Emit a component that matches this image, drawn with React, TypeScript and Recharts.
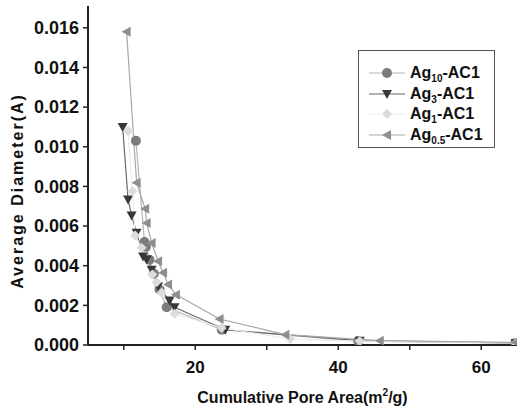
import React from 'react';
import { ComposedChart, Line, XAxis, YAxis } from 'recharts';

const FONT = '"Liberation Sans", Arial, Helvetica, sans-serif';

const ag10X = [11.7, 12.9, 13.1, 13.6, 14.2, 15.0, 16.0, 23.7, 42.8, 64.8];
const ag10Y = [0.0103, 0.0052, 0.00495, 0.0043, 0.0036, 0.0028, 0.0019, 0.00077, 0.0002, 0.0001];

const ag3X = [9.85, 10.6, 11.1, 11.8, 12.7, 13.2, 13.9, 14.8, 16.4, 17.1, 24.2, 43.0, 64.8];
const ag3Y = [0.011, 0.00734, 0.00653, 0.00566, 0.00447, 0.00431, 0.0038, 0.00296, 0.00225, 0.0019, 0.00077, 0.00022, 0.0001];

const ag1X = [10.6, 11.2, 11.6, 12.5, 14.0, 14.6, 15.3, 17.1, 23.7, 33.3, 43.0, 64.8];
const ag1Y = [0.0108, 0.00776, 0.00552, 0.0049, 0.00355, 0.00316, 0.00263, 0.00158, 0.00086, 0.0003, 0.0002, 0.0001];

const ag05X = [10.4, 11.8, 13.0, 13.2, 13.9, 14.8, 15.5, 16.2, 17.3, 23.4, 32.6, 45.8, 64.8];
const ag05Y = [0.0158, 0.00818, 0.00687, 0.00616, 0.00515, 0.00422, 0.00364, 0.00305, 0.00254, 0.00131, 0.00052, 0.00022, 0.00013];

const xTicks = [10, 20, 30, 40, 50, 60];
const yTicks = [0, 0.002, 0.004, 0.006, 0.008, 0.01, 0.012, 0.014, 0.016];

const toPts = (xs: number[], ys: number[]) => xs.map((x, i) => ({ x, y: ys[i] }));

type Shape = 'circle' | 'down' | 'diamond' | 'left';

const series: { name: string; sub: string; shape: Shape; fill: string; line: string; data: { x: number; y: number }[] }[] = [
  { name: 'Ag', sub: '10', shape: 'circle', fill: '#7c7c7c', line: '#b4b4b4', data: toPts(ag10X, ag10Y) },
  { name: 'Ag', sub: '3', shape: 'down', fill: '#383838', line: '#6a6a6a', data: toPts(ag3X, ag3Y) },
  { name: 'Ag', sub: '1', shape: 'diamond', fill: '#dcdcdc', line: '#ececec', data: toPts(ag1X, ag1Y) },
  { name: 'Ag', sub: '0.5', shape: 'left', fill: '#8e8e8e', line: '#a8a8a8', data: toPts(ag05X, ag05Y) },
];

const Marker = ({ cx, cy, shape, fill }: { cx: number; cy: number; shape: Shape; fill: string }) => {
  if (cx == null || cy == null) return null;
  const r = 5;
  if (shape === 'circle') return <circle cx={cx} cy={cy} r={r} fill={fill} />;
  if (shape === 'down')
    return <polygon points={`${cx - r},${cy - r * 0.8} ${cx + r},${cy - r * 0.8} ${cx},${cy + r}`} fill={fill} />;
  if (shape === 'diamond')
    return <polygon points={`${cx},${cy - r} ${cx + r},${cy} ${cx},${cy + r} ${cx - r},${cy}`} fill={fill} />;
  return <polygon points={`${cx - r},${cy} ${cx + r * 0.8},${cy - r} ${cx + r * 0.8},${cy + r}`} fill={fill} />;
};

const XTitle = (props: any) => {
  const vb = props.viewBox || {};
  const cx = vb.x + vb.width / 2;
  return (
    <text x={cx} y={403} textAnchor="middle" fontFamily={FONT} fontWeight="bold" fontSize={16} fill="#111">
      Cumulative Pore Area(m<tspan fontSize={10} dy={-7}>2</tspan>
      <tspan dy={7}>/g)</tspan>
    </text>
  );
};

const YTitle = () => (
  <text
    x={17}
    y={191}
    transform="rotate(-90 17 191)"
    textAnchor="middle"
    dominantBaseline="central"
    fontFamily={FONT}
    fontWeight="bold"
    fontSize={16}
    letterSpacing={2}
    fill="#111"
  >
    Average Diameter(A)
  </text>
);

export default function App() {
  return (
    <div style={{ position: 'absolute', left: 0, top: 0, width: 518, height: 413, background: '#fff' }}>
      <ComposedChart width={518} height={413} margin={{ top: 6, right: 1, bottom: 0, left: 0 }}>
        <XAxis
          xAxisId="top"
          orientation="top"
          type="number"
          dataKey="x"
          domain={[5, 65]}
          allowDataOverflow
          tick={false}
          tickLine={false}
          height={0}
          axisLine={{ stroke: '#222', strokeWidth: 1.5 }}
        />
        <XAxis
          type="number"
          dataKey="x"
          domain={[5, 65]}
          allowDataOverflow
          ticks={xTicks}
          tickFormatter={(v: number) => (v % 20 === 0 ? String(v) : '')}
          height={68}
          tickSize={5}
          tickLine={{ stroke: '#222', strokeWidth: 1.5 }}
          axisLine={{ stroke: '#222', strokeWidth: 2 }}
          tick={{ fontFamily: FONT, fontWeight: 'bold', fontSize: 17, fill: '#111', dy: 9 }}
          label={<XTitle />}
        />
        <YAxis
          type="number"
          domain={[0, 0.0171]}
          allowDataOverflow
          ticks={yTicks}
          tickFormatter={(v: number) => v.toFixed(3)}
          width={88}
          tickSize={5}
          tickLine={{ stroke: '#222', strokeWidth: 1.5 }}
          axisLine={{ stroke: '#222', strokeWidth: 2 }}
          tick={{ fontFamily: FONT, fontWeight: 'bold', fontSize: 18, fill: '#111', dx: -2 }}
          label={<YTitle />}
        />
        {series.map((s) => (
          <Line
            key={s.sub}
            data={s.data}
            dataKey="y"
            type="linear"
            stroke={s.line}
            strokeWidth={1.2}
            isAnimationActive={false}
            legendType="none"
            dot={(p: any) => <Marker key={`${s.sub}-${p.index}`} cx={p.cx} cy={p.cy} shape={s.shape} fill={s.fill} />}
            activeDot={false}
          />
        ))}
      </ComposedChart>
      <div
        style={{
          position: 'absolute',
          left: 358,
          top: 50,
          width: 137,
          height: 98,
          border: '1px solid #555',
          background: '#fff',
          boxSizing: 'border-box',
        }}
      >
        {series.map((s, i) => (
          <div
            key={s.sub}
            style={{
              position: 'absolute',
              left: 9,
              top: 12 + i * 20.7,
              height: 20,
              display: 'flex',
              alignItems: 'center',
              fontFamily: FONT,
              fontWeight: 'bold',
              fontSize: 16,
              color: '#111',
            }}
          >
            <svg width={38} height={20} style={{ display: 'block' }}>
              <line x1={1} y1={10} x2={37} y2={10} stroke={s.line} strokeWidth={1.2} />
              <Marker cx={19} cy={10} shape={s.shape} fill={s.fill} />
            </svg>
            <span style={{ marginLeft: 4, whiteSpace: 'nowrap' }}>
              {s.name}
              <sub style={{ fontSize: 10, verticalAlign: 'baseline', position: 'relative', top: 4 }}>{s.sub}</sub>-AC1
            </span>
          </div>
        ))}
      </div>
    </div>
  );
}
